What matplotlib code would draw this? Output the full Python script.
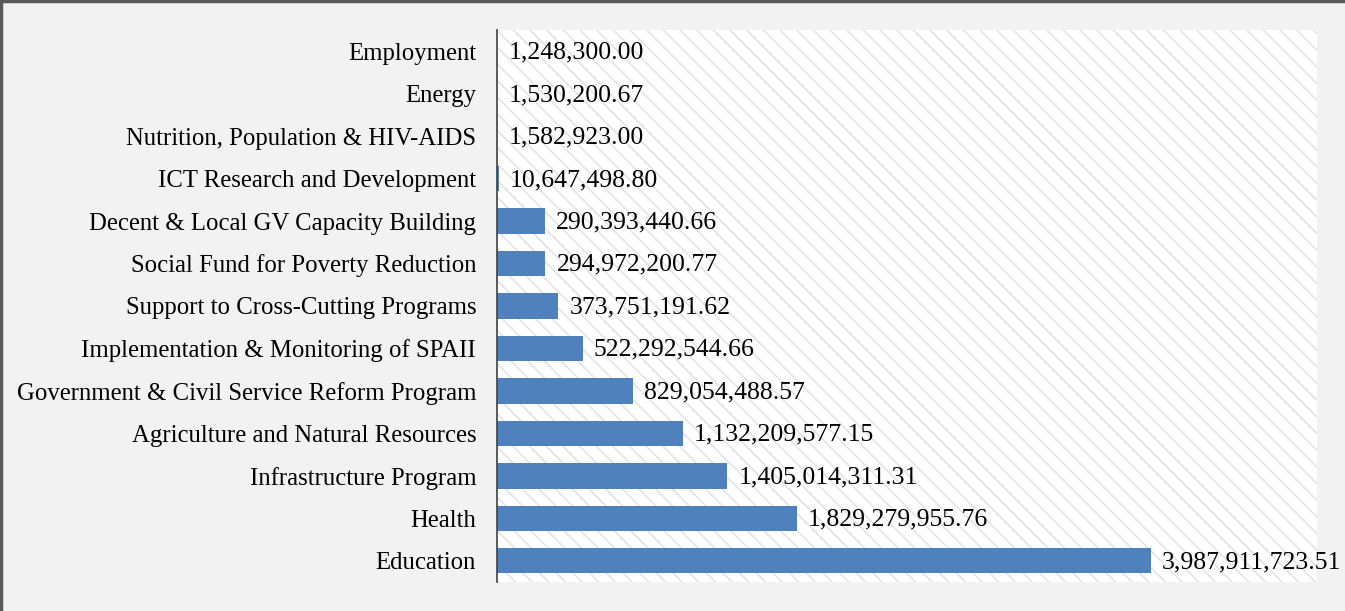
import matplotlib.pyplot as plt
from matplotlib.lines import Line2D

# data, top to bottom as shown
programs = ['Employment', 'Energy', 'Nutrition, Population & HIV-AIDS',
            'ICT Research and Development', 'Decent & Local GV Capacity Building',
            'Social Fund for Poverty Reduction', 'Support to Cross-Cutting Programs',
            'Implementation & Monitoring of SPAII', 'Government & Civil Service Reform Program',
            'Agriculture and Natural Resources', 'Infrastructure Program', 'Health', 'Education']
amounts = [1248300.00, 1530200.67, 1582923.00, 10647498.80, 290393440.66,
           294972200.77, 373751191.62, 522292544.66, 829054488.57,
           1132209577.15, 1405014311.31, 1829279955.76, 3987911723.51]

plt.rcParams['font.family'] = ['Liberation Serif', 'DejaVu Serif']
plt.rcParams['hatch.linewidth'] = 1.1
plt.rcParams['hatch.color'] = '#e2e2e2'

fig = plt.figure(figsize=(13.45, 6.11), dpi=100)
fig.set_facecolor('#f2f2f2')
ax = fig.add_axes([0.3695, 0.0475, 0.6095, 0.9035])

# hatched plot area
ax.set_facecolor('white')
ax.patch.set_hatch('\\\\')
ax.patch.set_edgecolor('#e2e2e2')
ax.patch.set_linewidth(0)

ypos = list(range(len(programs)))[::-1]
ax.barh(ypos, amounts, height=0.6, color='#4f81bd', zorder=2)

for y, v in zip(ypos, amounts):
    ax.annotate(f'{v:,.2f}', xy=(v, y), xytext=(8, -1), textcoords='offset points',
                va='center', ha='left', fontsize=18.5, color='black')

ax.set_xlim(0, 5e9)
ax.set_ylim(-0.5, len(programs) - 0.5)
ax.set_yticks(ypos)
ax.set_yticklabels(programs, fontsize=17.8)
ax.tick_params(axis='y', length=0, pad=15)
ax.set_xticks([])
for s in ['top', 'right', 'bottom']:
    ax.spines[s].set_visible(False)
ax.spines['left'].set_color('#404040')
ax.spines['left'].set_linewidth(1.2)

# figure border (left and top visible)
fig.add_artist(Line2D([0.001, 0.001], [0, 1], transform=fig.transFigure, color='#595959', lw=2.5))
fig.add_artist(Line2D([0, 1], [0.999, 0.999], transform=fig.transFigure, color='#595959', lw=2.5))

fig.savefig('out.png', dpi=100, facecolor=fig.get_facecolor())
